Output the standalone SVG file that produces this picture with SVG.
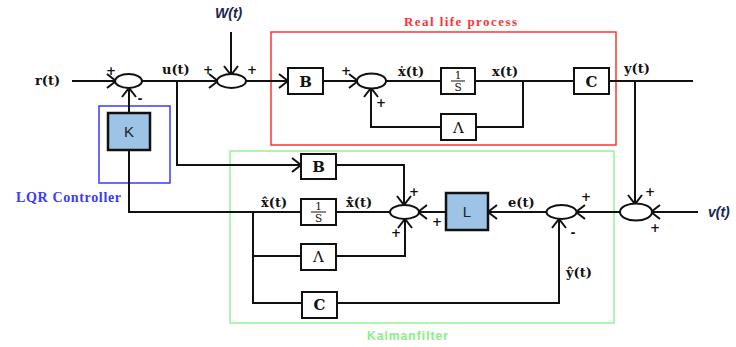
<svg xmlns="http://www.w3.org/2000/svg" width="736" height="347" viewBox="0 0 736 347">
<defs>
<marker id="arr" markerUnits="userSpaceOnUse" markerWidth="14" markerHeight="16" refX="10" refY="7" orient="auto" overflow="visible">
<path d="M1,0 L10,7 L1,14" fill="none" stroke="#111" stroke-width="2"/>
</marker>
</defs>
<style>
.w{stroke:#111;stroke-width:2;fill:none}
.a{stroke:#111;stroke-width:2;fill:none;marker-end:url(#arr)}
.box{fill:#fff;stroke:#111;stroke-width:2}
.kb{fill:#9dc3e6;stroke:#111;stroke-width:2.5}
.sum{fill:#fff;stroke:#111;stroke-width:2}
.lbl{font-family:"DejaVu Serif",serif;font-weight:bold;font-size:13px;fill:#111}
.bl{font-family:"DejaVu Serif",serif;font-weight:bold;font-size:15px;fill:#111;text-anchor:middle}
.bn{font-family:"DejaVu Serif",serif;font-size:15px;fill:#111;text-anchor:middle}
.fr{font-family:"DejaVu Serif",serif;font-size:10.5px;fill:#111;text-anchor:middle}
.sg{font-family:"DejaVu Sans",sans-serif;font-weight:bold;font-size:12px;fill:#111;text-anchor:middle}
.it{font-family:"Liberation Sans",sans-serif;font-weight:bold;font-style:italic;font-size:14px;fill:#1a2450}
.ks{font-family:"Liberation Sans",sans-serif;font-size:15px;fill:#222;text-anchor:middle}
</style>

<g id="regions">
<rect id="real-life-process" x="271" y="32" width="345" height="113" fill="none" stroke="#ff3333" stroke-width="1.5"/>
<text x="404" y="26" font-family="Liberation Serif, serif" font-weight="bold" font-size="13" fill="#ff3333" textLength="113">Real life process</text>
<rect id="lqr-box" x="99" y="106" width="71" height="77" fill="none" stroke="#3a3aff" stroke-width="1.5"/>
<text x="16" y="202" font-family="Liberation Serif, serif" font-weight="bold" font-size="14" fill="#3a3aff" textLength="105">LQR Controller</text>
<rect id="kalman-box" x="230" y="151" width="384" height="172" fill="none" stroke="#99f099" stroke-width="1.5"/>
<text x="367" y="340" font-family="Liberation Sans, sans-serif" font-weight="bold" font-size="12" fill="#88ee88" textLength="81">Kalmanfilter</text>
</g>

<g id="connectors">
<line class="a" x1="72" y1="81" x2="116" y2="81"/>
<line class="a" x1="142" y1="81" x2="218" y2="81"/>
<line class="a" x1="231" y1="32" x2="231" y2="75"/>
<line class="a" x1="246" y1="81" x2="288" y2="81"/>
<line class="a" x1="323" y1="81" x2="358" y2="81"/>
<line class="w" x1="386" y1="81" x2="441" y2="81"/>
<line class="w" x1="475" y1="81" x2="574" y2="81"/>
<polyline class="w" points="523,81 523,127 476,127"/>
<polyline class="a" points="441,127 371,127 371,88"/>
<line class="w" x1="609" y1="81" x2="693" y2="81"/>
<line class="a" x1="635" y1="81" x2="635" y2="204"/>
<line class="a" x1="698" y1="212" x2="651" y2="212"/>
<line class="a" x1="620" y1="212" x2="576" y2="212"/>
<line class="a" x1="546" y1="212" x2="488" y2="212"/>
<line class="a" x1="446" y1="212" x2="418" y2="212"/>
<polyline class="a" points="177,81 177,165 301,165"/>
<polyline class="a" points="336,165 404,165 404,205"/>
<line class="w" x1="390" y1="212" x2="336" y2="212"/>
<polyline class="w" points="301,212 129,212 129,150"/>
<line class="a" x1="129" y1="113" x2="129" y2="88"/>
<polyline class="w" points="301,256 253,256"/>
<polyline class="w" points="253,212 253,303 302,303"/>
<polyline class="a" points="336,256 405,256 405,219"/>
<polyline class="a" points="337,303 559,303 559,219"/>
</g>

<g id="sum1"><ellipse class="sum" cx="128.5" cy="81" rx="13.5" ry="7"/><text class="sg" x="111" y="75">+</text><text class="sg" x="140" y="103">-</text></g>
<g id="sum2"><ellipse class="sum" cx="231.5" cy="81" rx="14.5" ry="7"/><text class="sg" x="208" y="74">+</text><text class="sg" x="252" y="74">+</text></g>
<g id="sum3"><ellipse class="sum" cx="371.5" cy="81" rx="14.5" ry="7.5"/><text class="sg" x="346" y="75">+</text><text class="sg" x="381" y="107">+</text></g>
<g id="sum4"><ellipse class="sum" cx="561.5" cy="212" rx="15" ry="7"/><text class="sg" x="586" y="201">+</text><text class="sg" x="573" y="237">-</text></g>
<g id="sum5"><ellipse class="sum" cx="636" cy="212" rx="16" ry="8.5"/><text class="sg" x="650" y="196">+</text><text class="sg" x="655" y="232">+</text></g>
<g id="sum6"><ellipse class="sum" cx="404.5" cy="212" rx="14.5" ry="7"/><text class="sg" x="414" y="196">+</text><text class="sg" x="437" y="226">+</text><text class="sg" x="396" y="237">+</text></g>

<g id="K"><rect class="kb" x="108" y="113" width="42" height="37"/><text class="ks" x="129" y="137">K</text></g>
<g id="B1"><rect class="box" x="288" y="68" width="35" height="26"/><text class="bl" x="305.5" y="87">B</text></g>
<g id="int1"><rect class="box" x="441" y="68" width="34" height="26"/><text class="fr" x="458" y="79">1</text><line x1="451" y1="81" x2="465" y2="81" stroke="#111" stroke-width="1"/><text class="fr" x="458" y="91">S</text></g>
<g id="A1"><rect class="box" x="441" y="114" width="35" height="26"/><text class="bn" x="458.5" y="133">Λ</text></g>
<g id="C1"><rect class="box" x="574" y="68" width="35" height="26"/><text class="bl" x="591.5" y="87">C</text></g>
<g id="B2"><rect class="box" x="301" y="154" width="35" height="25"/><text class="bl" x="318.5" y="172">B</text></g>
<g id="int2"><rect class="box" x="301" y="199" width="35" height="26"/><text class="fr" x="318.5" y="210">1</text><line x1="311" y1="212" x2="326" y2="212" stroke="#111" stroke-width="1"/><text class="fr" x="318.5" y="222">S</text></g>
<g id="A2"><rect class="box" x="301" y="244" width="35" height="26"/><text class="bn" x="318.5" y="262">Λ</text></g>
<g id="C2"><rect class="box" x="302" y="292" width="35" height="26"/><text class="bl" x="319.5" y="310">C</text></g>
<g id="L"><rect class="kb" x="446" y="193" width="42" height="37"/><text class="ks" x="467" y="217">L</text></g>

<g id="labels">
<text class="lbl" x="35" y="85">r(t)</text>
<text class="lbl" x="162" y="74">u(t)</text>
<text class="it" x="215" y="18">W(t)</text>
<text class="lbl" x="398" y="76">ẋ(t)</text>
<text class="lbl" x="492" y="76">x(t)</text>
<text class="lbl" x="624" y="73">y(t)</text>
<text class="it" x="708" y="217" font-size="13">v(t)</text>
<text class="lbl" x="508" y="207">e(t)</text>
<text class="lbl" x="261" y="207">x̂(t)</text>
<text class="lbl" x="346" y="207">x̂̇(t)</text>
<text class="lbl" x="566" y="277">ŷ(t)</text>
</g>
</svg>
